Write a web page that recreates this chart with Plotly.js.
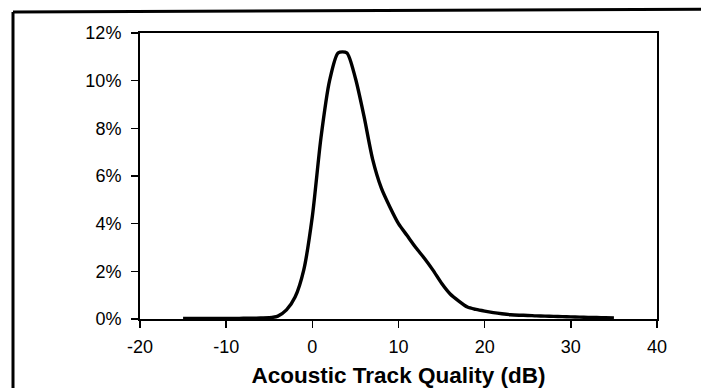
<!DOCTYPE html>
<html>
<head>
<meta charset="utf-8">
<script src="https://cdn.plot.ly/plotly-3.0.1.min.js"></script>
<style>
  html, body { margin: 0; padding: 0; background: #fff; }
  #chart { width: 701px; height: 388px; }
</style>
</head>
<body>
<div id="chart"></div>
<script>
// Acoustic track quality (dB) bins and share of tracks (fraction)
var quality = [-15, -14, -13, -12, -11, -10, -9, -8, -7, -6, -5, -4, -3, -2, -1,
  0, 1, 2, 3, 4, 5, 6, 7, 8, 9, 10, 11, 12, 13, 14, 15, 16, 17, 18, 19, 20,
  21, 22, 23, 24, 25, 26, 27, 28, 29, 30, 31, 32, 33, 34, 35];
var share = [0.0002, 0.0002, 0.0002, 0.0002, 0.0002, 0.0002, 0.0002, 0.0003, 0.0003, 0.0004, 0.0005, 0.0012, 0.0038, 0.0092, 0.0205,
  0.043, 0.076, 0.100, 0.1117, 0.1117, 0.101, 0.085, 0.067, 0.055, 0.047, 0.040, 0.035, 0.030, 0.0255, 0.0205, 0.015, 0.0105, 0.0075, 0.005, 0.004, 0.0033,
  0.0027, 0.0022, 0.0018, 0.0016, 0.0015, 0.0013, 0.0012, 0.0011, 0.001, 0.0009, 0.0008, 0.0007, 0.0006, 0.0005, 0.0004];
var xTicks = [-20, -10, 0, 10, 20, 30, 40];
var yTicks = [0, 0.02, 0.04, 0.06, 0.08, 0.10, 0.12];
var xTitle = 'Acoustic Track Quality (dB)';

var trace = {
  x: quality,
  y: share,
  type: 'scatter',
  mode: 'lines',
  line: { color: '#000', width: 3.4, shape: 'spline', smoothing: 0.7 },
  hoverinfo: 'skip'
};

var layout = {
  width: 701,
  height: 388,
  margin: { l: 140, r: 44, t: 33, b: 69, pad: 0 },
  paper_bgcolor: '#fff',
  plot_bgcolor: '#fff',
  showlegend: false,
  font: { family: '"Liberation Sans", Arial, sans-serif', color: '#000', size: 17 },
  xaxis: {
    range: [-20, 40],
    tickvals: xTicks,
    ticktext: xTicks.map(String),
    ticks: 'outside',
    ticklen: 7,
    tickwidth: 1.5,
    tickcolor: '#000',
    ticklabelstandoff: 3,
    showline: true,
    linecolor: '#000',
    linewidth: 2,
    mirror: true,
    showgrid: false,
    zeroline: false,
    tickfont: { size: 18, color: '#000' },
    title: { text: '<b>' + xTitle + '</b>', font: { size: 22.5, color: '#000' }, standoff: 17 }
  },
  yaxis: {
    range: [0, 0.12],
    tickvals: yTicks,
    tickformat: '.0%',
    ticks: 'outside',
    ticklen: 7,
    tickwidth: 1.5,
    tickcolor: '#000',
    ticklabelstandoff: 6,
    showline: true,
    linecolor: '#000',
    linewidth: 2,
    mirror: true,
    showgrid: false,
    zeroline: false,
    tickfont: { size: 18, color: '#000' }
  },
  shapes: [
    { type: 'line', xref: 'paper', yref: 'paper',
      x0: -127 / 517, x1: 1.2, y0: (319 - 12) / 286, y1: (319 - 9) / 286,
      line: { color: '#000', width: 3 } },
    { type: 'line', xref: 'paper', yref: 'paper',
      x0: -127 / 517, x1: -127 / 517, y0: (319 - 12) / 286, y1: -0.3,
      line: { color: '#000', width: 3 } }
  ]
};

Plotly.newPlot('chart', [trace], layout, { displayModeBar: false, staticPlot: true });
</script>
</body>
</html>
